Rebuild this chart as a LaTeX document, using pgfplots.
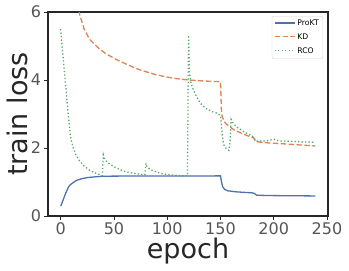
\documentclass[border=0pt]{standalone}
\usepackage{pgfplots}
\pgfplotsset{compat=1.18}
\usepackage{fontspec}
\setmainfont{DejaVu Sans}
\definecolor{cblue}{HTML}{4C72B0}
\definecolor{corange}{HTML}{DD8452}
\definecolor{cgreen}{HTML}{55A868}
\definecolor{ticklab}{HTML}{555555}
\definecolor{labcol}{HTML}{262626}
\begin{document}
\begin{tikzpicture}
\begin{axis}[
  name=ax,
  scale only axis,
  width=280pt, height=204pt,
  xmin=-11.95, xmax=250.95, ymin=0, ymax=6,
  xtick={0,50,100,150,200,250},
  ytick={0,2,4,6},
  axis line style={labcol, line width=1.1pt},
  tick align=outside,
  tick pos=left,
  major tick length=3.5pt,
  tick style={labcol, line width=0.8pt},
  /pgf/number format/assume math mode=true,
  ticklabel style={font=\fontsize{16}{18}\selectfont, text=ticklab},
  xlabel={epoch}, ylabel={train loss},
  label style={font=\fontsize{27}{30}\selectfont, text=labcol},
  xlabel style={yshift=4pt},
  ylabel style={yshift=-4pt},
  legend style={at={(0.982,0.98)}, anchor=north east, draw=gray!35, rounded corners=2pt,
    font=\fontsize{7.7}{9}\selectfont, inner sep=2pt, row sep=2.5pt},
  legend cell align=left,
  legend image code/.code={\draw[#1, line width=1.4pt] (0pt,0.8pt) -- (20pt,0.8pt);},
]
\addplot[color=cblue, line width=1.3pt] coordinates {
(0,0.29)(2,0.45)(4,0.62)(6,0.76)(7,0.84)(9,0.92)(12,0.99)(15,1.05)(20,1.1)(25,1.13)(30,1.145)(39,1.17)(60,1.175)(100,1.175)(150,1.18)(151,1.0)(152,0.86)(154,0.78)(157,0.74)(165,0.71)(180,0.68)(182,0.66)(184,0.61)(200,0.6)(239,0.59)};
\addlegendentry{ProKT}
\addplot[color=corange, line width=1.3pt, dash pattern=on 5.5pt off 2.4pt] coordinates {
(0,9.5)(5,8.2)(10,7.2)(14,6.5)(18,5.9)(22,5.5)(27,5.2)(34,4.98)(42,4.78)(53,4.59)(64,4.43)(75,4.29)(90,4.15)(106,4.05)(120,4.0)(135,3.97)(150,3.95)(151,3.0)(153,2.8)(155,2.72)(158,2.64)(163,2.53)(170,2.43)(178,2.33)(181,2.3)(183,2.19)(190,2.16)(206,2.13)(220,2.1)(239,2.06)};
\addlegendentry{KD}
\addplot[color=cgreen, line width=1.3pt, dash pattern=on 1.3pt off 2.2pt] coordinates {
(0,5.5)(1,5.1)(2,4.75)(3,4.4)(4,4.05)(5,3.7)(6,3.35)(7,3.0)(8,2.7)(9,2.4)(10,2.2)(12,1.98)(14,1.82)(17,1.65)(22,1.47)(27,1.35)(32,1.27)(39,1.19)
(40,1.8)(41,1.7)(43,1.61)(45,1.55)(50,1.45)(58,1.33)(64,1.28)(70,1.25)(76,1.22)(79,1.21)
(80,1.55)(81,1.45)(84,1.37)(90,1.29)(96,1.24)(104,1.21)(112,1.19)(119,1.18)
(120,5.32)(121,4.2)(122,3.95)(124,3.75)(127,3.55)(131,3.32)(136,3.17)(142,3.07)(147,3.02)(150,2.95)
(151,2.6)(152,2.3)(153,2.1)(155,2.0)(157,1.94)(158,1.93)(159,2.2)(160,2.84)(162,2.72)(166,2.6)(172,2.48)(178,2.38)(181,2.33)(183,2.21)(190,2.2)(195,2.22)(200,2.26)(205,2.21)(215,2.2)(225,2.18)(239,2.17)};
\addlegendentry{RCO}
\end{axis}
\pgfresetboundingbox
\path[use as bounding box] ([shift={(-48pt,-55pt)}]ax.south west) rectangle ([shift={(21pt,12pt)}]ax.north east);
\end{tikzpicture}
\end{document}
